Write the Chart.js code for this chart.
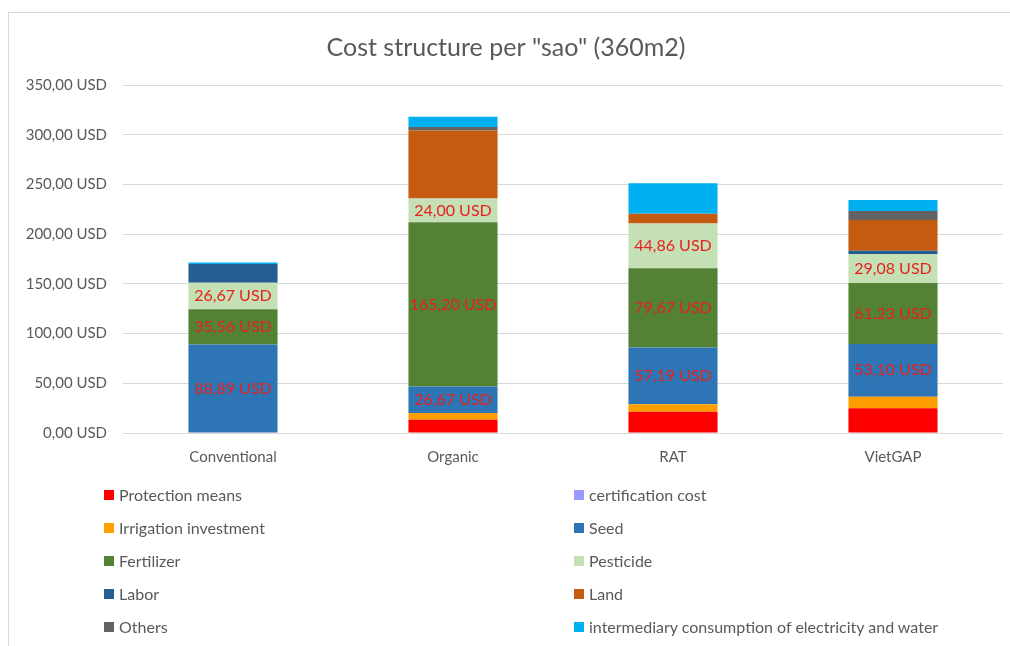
<!DOCTYPE html>
<html>
<head>
<meta charset="utf-8">
<script src="https://cdn.jsdelivr.net/npm/chart.js@4.4.0/dist/chart.umd.min.js"></script>
<style>
  body { margin: 0; background: #fff; font-family: Lato, "Open Sans", sans-serif; }
  #wrap {
    position: absolute; left: 8px; top: 12px; width: 1002px; height: 634px;
    border-left: 1px solid #d9d9d9; border-top: 1px solid #d9d9d9;
  }
  #legend {
    position: absolute; left: 104px; top: 478px; width: 900px;
    display: grid; grid-template-columns: 470px 430px;
  }
  .item { height: 33px; display: flex; align-items: center; font-size: 16px; color: #595959; }
  .box { width: 10px; height: 10px; margin-right: 5px; flex: none; }
</style>
</head>
<body>
<div id="wrap"><canvas id="cost-chart" width="1001" height="633"></canvas></div>
<div id="legend"></div>
<script>
var categories = ['Conventional', 'Organic', 'RAT', 'VietGAP'];

var seriesNames = [
  'Protection means', 'certification cost', 'Irrigation investment', 'Seed',
  'Fertilizer', 'Pesticide', 'Labor', 'Land', 'Others',
  'intermediary consumption of electricity and water'
];

var protection    = [0, 13.33, 21.30, 24.80];
var certification = [0, 0, 0, 0];
var irrigation    = [0, 6.67, 7.60, 11.70];
var seed          = [88.89, 26.67, 57.19, 53.10];
var fertilizer    = [35.56, 165.20, 79.67, 61.23];
var pesticide     = [26.67, 24.00, 44.86, 29.08];
var labor         = [18.90, 0, 0, 3.30];
var land          = [0, 68.30, 10.00, 31.10];
var others        = [0, 3.50, 0, 9.00];
var intermediary  = [1.50, 10.50, 30.60, 11.10];

var yTicks = [0, 50, 100, 150, 200, 250, 300, 350];

// series shown with value labels inside the bars
var labelledSeries = ['Seed', 'Fertilizer', 'Pesticide'];

var seriesColors = [
  '#ff0000', '#9999ff', '#ff9e00', '#2e75b6', '#548235',
  '#c5e0b4', '#255e91', '#c55a11', '#636363', '#00b0f0'
];

var seriesValues = [protection, certification, irrigation, seed, fertilizer,
  pesticide, labor, land, others, intermediary];

function usd(v) {
  return v.toFixed(2).replace('.', ',') + ' USD';
}

var datasets = seriesNames.map(function(name, i) {
  return {
    label: name,
    data: seriesValues[i],
    backgroundColor: seriesColors[i],
    borderWidth: 0,
    categoryPercentage: 1,
    barPercentage: 0.405
  };
});

var barLabels = {
  id: 'barLabels',
  afterDatasetsDraw: function(chart) {
    var ctx = chart.ctx;
    ctx.save();
    ctx.font = '16px Lato, "Open Sans", sans-serif';
    ctx.fillStyle = '#e8201f';
    ctx.textAlign = 'center';
    ctx.textBaseline = 'middle';
    chart.data.datasets.forEach(function(ds, i) {
      if (labelledSeries.indexOf(ds.label) < 0) return;
      var meta = chart.getDatasetMeta(i);
      meta.data.forEach(function(bar, j) {
        var v = ds.data[j];
        if (!v) return;
        var p = bar.getProps(['x', 'y', 'base'], true);
        ctx.fillText(usd(v), p.x, (p.y + p.base) / 2);
      });
    });
    ctx.restore();
  }
};

var chart = new Chart(document.getElementById('cost-chart'), {
  type: 'bar',
  data: { labels: categories, datasets: datasets },
  plugins: [barLabels],
  options: {
    responsive: false,
    animation: false,
    layout: { padding: { left: 0, right: 7, top: 0, bottom: 0 } },
    plugins: {
      legend: { display: false },
      tooltip: { enabled: false },
      title: {
        display: true,
        text: 'Cost structure per "sao" (360m2)',
        color: '#595959',
        font: { family: 'Lato, "Open Sans", sans-serif', size: 25, weight: 'normal' },
        padding: { top: 20, bottom: 22 }
      }
    },
    scales: {
      x: {
        stacked: true,
        grid: { display: false, drawTicks: false },
        border: { display: false },
        ticks: {
          color: '#595959',
          padding: 15,
          font: { family: 'Lato, "Open Sans", sans-serif', size: 15 }
        },
        afterFit: function(scale) { scale.height = 213; }
      },
      y: {
        stacked: true,
        min: 0,
        max: 350,
        afterBuildTicks: function(scale) {
          scale.ticks = yTicks.map(function(v) { return { value: v }; });
        },
        grid: { color: '#d9d9d9', drawTicks: false },
        border: { display: false },
        ticks: {
          color: '#595959',
          padding: 16,
          font: { family: 'Lato, "Open Sans", sans-serif', size: 15 },
          callback: function(v) { return usd(v); }
        },
        afterFit: function(scale) { scale.width = 114; }
      }
    }
  }
});

var legend = document.getElementById('legend');
chart.data.datasets.forEach(function(ds) {
  var item = document.createElement('div');
  item.className = 'item';
  var box = document.createElement('span');
  box.className = 'box';
  box.style.background = ds.backgroundColor;
  item.appendChild(box);
  item.appendChild(document.createTextNode(ds.label));
  legend.appendChild(item);
});
</script>
</body>
</html>
